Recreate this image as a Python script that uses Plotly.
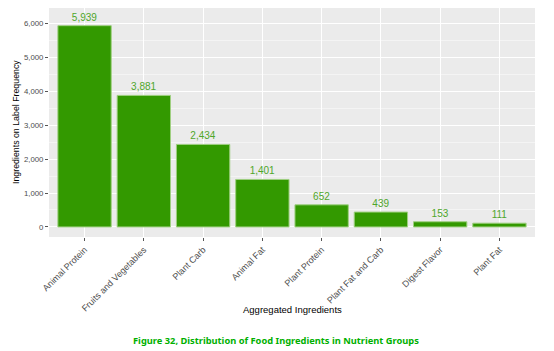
import plotly.graph_objects as go

categories = ["Animal Protein", "Fruits and Vegetables", "Plant Carb", "Animal Fat",
              "Plant Protein", "Plant Fat and Carb", "Digest Flavor", "Plant Fat"]
counts = [5939, 3881, 2434, 1401, 652, 439, 153, 111]
y_ticks = [0, 1000, 2000, 3000, 4000, 5000, 6000]
y_tick_labels = ["0", "1,000", "2,000", "3,000", "4,000", "5,000", "6,000"]

W, H = 554, 351
L, R, T, B = 49, 19, 8, 114
plot_w = W - L - R
plot_h = H - T - B


def px_x(x):
    return (x - L) / plot_w


def px_y(y):
    return (H - B - y) / plot_h


fig = go.Figure()
fig.add_trace(go.Bar(
    x=categories, y=counts,
    marker=dict(color="#339900", line=dict(color="#9fcf80", width=1)),
    width=0.9,
    text=[f"{v:,}" for v in counts],
    textposition="outside",
    textfont=dict(color="#4ea62a", size=10, family="Liberation Sans"),
    cliponaxis=False,
))

fig.update_layout(
    width=W, height=H,
    margin=dict(l=L, r=R, t=T, b=B, autoexpand=False),
    paper_bgcolor="white",
    plot_bgcolor="#ebebeb",
    font=dict(family="Liberation Sans", size=9, color="#4d4d4d"),
    showlegend=False,
    bargap=0.1,
    xaxis=dict(
        range=[-0.6, 7.6], automargin=False,
        showgrid=True, gridcolor="white", gridwidth=1,
        ticks="outside", ticklen=3, tickcolor="#555", tickwidth=1,
        tickangle=-45, tickfont=dict(size=9, color="#4d4d4d"),
        showline=False, zeroline=False,
    ),
    yaxis=dict(
        range=[-297, 6460], automargin=False,
        tickvals=y_ticks, ticktext=y_tick_labels,
        showgrid=True, gridcolor="white", gridwidth=1,
        minor=dict(dtick=500, tick0=0, showgrid=True, gridcolor="#f4f4f4", gridwidth=0.6),
        ticks="outside", ticklen=3, tickcolor="#555", tickwidth=1,
        tickfont=dict(size=7.8, color="#4d4d4d"),
        zeroline=False, showline=False,
    ),
    annotations=[
        dict(text="Ingredients on Label Frequency", textangle=-90,
             x=px_x(16), y=px_y(122), xref="paper", yref="paper",
             xanchor="center", yanchor="middle", showarrow=False,
             font=dict(size=8.8, color="black")),
        dict(text="Aggregated Ingredients", x=0.5, y=px_y(309), xref="paper", yref="paper",
             xanchor="center", yanchor="middle", showarrow=False,
             font=dict(size=9.5, color="black")),
        dict(text="<b>Figure 32, Distribution of Food Ingredients in Nutrient Groups</b>",
             x=px_x(276), y=px_y(340), xref="paper", yref="paper",
             xanchor="center", yanchor="middle", showarrow=False,
             font=dict(size=9.3, color="#00b000", family="Noto Sans")),
    ],
)

fig.write_html("out.html")
